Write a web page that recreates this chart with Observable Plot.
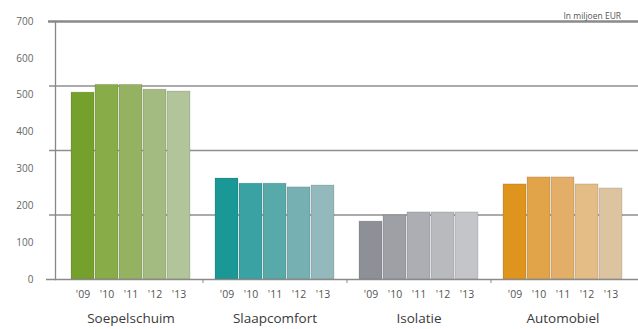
<!DOCTYPE html>
<html><head><meta charset="utf-8">
<script src="https://cdn.jsdelivr.net/npm/d3@7"></script>
<script src="https://cdn.jsdelivr.net/npm/@observablehq/plot@0.6"></script>
<style>
html,body{margin:0;padding:0;background:#fff;}
#chart{width:638px;height:329px;overflow:hidden;}
</style></head>
<body><div id="chart"></div>
<script>
// Data
const categories = ["Soepelschuim", "Slaapcomfort", "Isolatie", "Automobiel"];
const years = ["'09", "'10", "'11", "'12", "'13"];
const soepelschuim = [507, 528, 528, 515, 510];
const slaapcomfort = [274, 260, 260, 250, 255];
const isolatie = [157, 174, 182, 182, 182];
const automobiel = [258, 277, 277, 258, 247];
const yTickLabels = [0, 100, 200, 300, 400, 500, 600, 700];
const gridValues = [175, 350, 525];
const unitLabel = "In miljoen EUR";

// Styles
const palette = {
  Soepelschuim: ["#75a02c", "#88ad48", "#95b262", "#a3ba80", "#b1c49a"],
  Slaapcomfort: ["#1a9896", "#3aa2a2", "#57a9aa", "#76b0b3", "#93b9bd"],
  Isolatie: ["#8d9096", "#9ea0a6", "#acaeb3", "#b8babe", "#c4c5c9"],
  Automobiel: ["#df941e", "#e2a448", "#e2ae68", "#e4bc86", "#ddc4a1"]
};

const seriesValues = [soepelschuim, slaapcomfort, isolatie, automobiel];
const rows = [];
const domain = [];
const spacers = [];
categories.forEach((c, ci) => {
  years.forEach((y, yi) => {
    const key = c + "|" + y;
    domain.push(key);
    rows.push({key, category: c, year: y, value: seriesValues[ci][yi], color: palette[c][yi]});
  });
  if (ci < categories.length - 1) { const s = "gap" + ci; domain.push(s); spacers.push(s); }
});
const barKeys = rows.map(d => d.key);
const labelRows = categories.map(c => ({key: c + "|" + years[2], label: c}));

const chart = Plot.plot({
  width: 638,
  height: 329,
  marginTop: 21,
  marginBottom: 50,
  marginLeft: 55,
  marginRight: 0,
  style: {fontFamily: "'Open Sans', sans-serif", background: "#fff"},
  x: {domain, type: "band", paddingInner: 0.06, paddingOuter: 0.5, axis: null},
  y: {domain: [0, 700], axis: null},
  marks: [
    Plot.ruleY(gridValues, {stroke: "#8f8f8f", strokeWidth: 1.3, insetLeft: -6}),
    Plot.ruleY([700], {stroke: "#8a8a8a", strokeWidth: 2.6, insetLeft: -7}),
    Plot.barY(rows, {x: "key", y: "value", fill: "color", stroke: "#000", strokeOpacity: 0.12, strokeWidth: 1}),
    Plot.frame({anchor: "left", stroke: "#888", strokeWidth: 1.3}),
    Plot.ruleY([0], {stroke: "#8a8a8a", strokeWidth: 1.5, insetLeft: -9}),
    Plot.axisY(yTickLabels, {label: null, tickSize: 0, tickPadding: 22, fontSize: 10, fill: "#666", tickFormat: d => String(d)}),
    Plot.axisX(spacers, {label: null, tickSize: 4, stroke: "#888", text: null}),
    Plot.axisX(barKeys, {label: null, tickSize: 0, tickPadding: 11, fontSize: 10.5, fill: "#555", tickFormat: k => k.split("|")[1]}),
    Plot.text(labelRows, {x: "key", y: () => 0, text: "label", dy: 39, fontSize: 13.5, fill: "#3a3a3a"}),
    Plot.text([unitLabel], {frameAnchor: "top-right", dx: -75, dy: -9, textAnchor: "start", fontSize: 8.5, letterSpacing: -0.4, fill: "#555"})
  ]
});
document.getElementById("chart").appendChild(chart);
</script></body></html>
